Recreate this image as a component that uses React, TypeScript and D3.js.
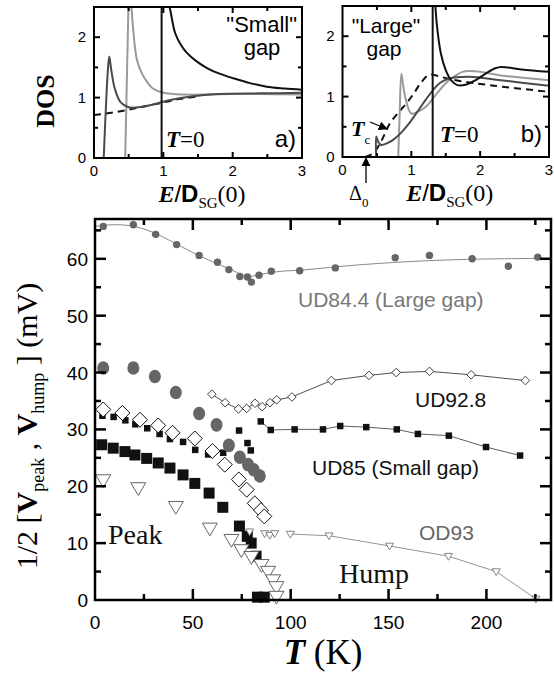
import React, { useEffect, useRef } from "react";
import * as d3 from "d3";

type Pt = [number, number];

// ---- main panel: [T (K), 1/2 V (mV)] ----
const ud844Hump: Pt[] = [
  [4.2, 65.7], [19.6, 66.0], [31, 64.3], [41.7, 62.5], [53.2, 60.6], [62.6, 59.4],
  [68.4, 58.1], [74, 56.9], [77.9, 56.8], [79.9, 55.9], [83.8, 57.1], [90.1, 57.8],
  [104.6, 57.9], [122.8, 58.4], [153.4, 60.2], [170.9, 60.6], [192.7, 60.0],
  [211.2, 58.7], [226.2, 60.3],
];
const ud844Fit: Pt[] = [
  [0, 65.7], [10, 66.0], [20, 65.7], [30, 64.6], [40, 62.9], [50, 61.1], [60, 59.5],
  [70, 58.0], [78, 56.9], [85, 57.3], [95, 57.8], [105, 58.0], [130, 58.8],
  [160, 59.5], [190, 59.9], [233, 60.1],
];
const ud844Peak: Pt[] = [
  [4.2, 40.8], [19.6, 40.8], [30.6, 39.3], [41.3, 36.5], [53.2, 32.8], [62.1, 30.8],
  [68.4, 27.2], [74, 25.1], [78.2, 23.8], [81.1, 22.9], [84.2, 21.8],
];
const ud928Hump: Pt[] = [
  [59.7, 36.2], [66.5, 34.7], [73.3, 33.6], [77.5, 33.7], [81.8, 34.6], [85.4, 34.0],
  [89.4, 34.7], [92.8, 35.2], [100.6, 35.7], [120.8, 38.6], [140, 39.5],
  [153.9, 40.0], [170.9, 40.2], [192.2, 39.6], [219.9, 38.6],
];
const ud928Peak: Pt[] = [
  [4.2, 33.5], [14, 32.9], [23, 31.7], [32.3, 30.7], [39.6, 29.4], [51, 28.4],
  [60, 26.2], [66.3, 23.8], [73.5, 21.2], [77.5, 19.4], [81.6, 17.0], [84.8, 15.8],
  [86.5, 14.7],
];
const ud85Hump: Pt[] = [
  [3.8, 32.4], [9.5, 32.2], [15.5, 31.6], [20.6, 30.9], [26.7, 30.2], [33, 29.2],
  [38.3, 28.3], [45, 27.8], [51.2, 26.4], [57.8, 25.6], [65.5, 25.9], [73.6, 29.8],
  [77.9, 27.6], [79.6, 26.3], [84.7, 31.4], [89.8, 29.9], [102, 30.0], [116.5, 30.0],
  [125.3, 30.6], [138.6, 30.4], [154.2, 30.0], [165, 29.2], [180.8, 28.9],
  [199.8, 26.9], [217.2, 25.4],
];
const ud85Peak: Pt[] = [
  [3.4, 27.3], [9.3, 26.7], [15.3, 26.1], [20.4, 25.5], [26.4, 24.9], [32.3, 24.1],
  [38.3, 23.2], [45, 22.0], [51, 20.5], [58.3, 18.8], [65.3, 16.3], [73.8, 13.0],
  [77.8, 11.2], [79.8, 10.0], [82.3, 7.7], [83, 0.5], [86.5, 0.5],
];
const od93Peak: Pt[] = [
  [4.2, 21.1], [22.1, 19.7], [41.3, 16.4], [58.7, 12.6], [69.7, 10.6], [74.8, 8.8],
  [79.9, 7.6], [85, 6.2], [88.4, 5.0], [91, 3.5], [92.7, 2.3], [92.7, 0.6],
];
const od93Hump: Pt[] = [
  [79, 12.0], [86.7, 11.7], [89.3, 11.4], [91.8, 11.7], [99.8, 11.6], [119.6, 11.3],
  [150.5, 9.5], [180.6, 7.7], [205, 5.0], [225.3, 0.2],
];

const mainXTicks = [0, 50, 100, 150, 200];
const mainYTicks = [0, 10, 20, 30, 40, 50, 60];

// ---- insets: [E/D_SG(0), DOS] ----
const smallBlackEdge: Pt[] = [[0.975, 0], [0.975, 2.7]];
const smallBlackTail: Pt[] = [
  [1.05, 2.7], [1.1, 2.45], [1.17, 2.07], [1.25, 1.88], [1.34, 1.74], [1.48, 1.6],
  [1.63, 1.49], [1.8, 1.4], [2.01, 1.32], [2.25, 1.24], [2.49, 1.18], [2.75, 1.15],
  [3, 1.13],
];
const smallDark: Pt[] = [
  [0.14, 0], [0.17, 0.8], [0.2, 1.45], [0.22, 1.68], [0.25, 1.45], [0.3, 1.15],
  [0.38, 0.93], [0.5, 0.84], [0.7, 0.85], [0.9, 0.9], [1.1, 0.96], [1.4, 1.02],
  [1.8, 1.06], [2.4, 1.07], [3, 1.08],
];
const smallLightEdge: Pt[] = [[0.45, 0], [0.5, 2.7]];
const smallLightTail: Pt[] = [
  [0.53, 2.7], [0.56, 2.2], [0.62, 1.62], [0.7, 1.38], [0.76, 1.27], [0.85, 1.15],
  [1.0, 1.08], [1.3, 1.05], [2, 1.06], [3, 1.05],
];
const smallDashed: Pt[] = [
  [0, 0.71], [0.25, 0.75], [0.5, 0.8], [0.75, 0.86], [1.0, 0.92], [1.25, 0.98], [1.5, 1.02],
];

const largeBlackEdge: Pt[] = [[1.31, 0], [1.31, 2.7]];
const largeBlackTail: Pt[] = [
  [1.34, 2.7], [1.37, 2.2], [1.43, 1.71], [1.5, 1.44], [1.58, 1.27], [1.67, 1.19],
  [1.8, 1.2], [1.93, 1.27], [2.08, 1.38], [2.22, 1.47], [2.31, 1.49], [2.6, 1.45],
  [3, 1.41],
];
const largeLight: Pt[] = [
  [0.81, 0], [0.83, 0.7], [0.855, 1.38], [0.88, 1.2], [0.92, 0.95], [1.0, 0.72],
  [1.1, 0.75], [1.21, 0.83], [1.35, 1.02], [1.5, 1.22], [1.62, 1.33], [1.74, 1.41],
  [1.93, 1.42], [2.3, 1.35], [3, 1.27],
];
const largeDark: Pt[] = [
  [0.49, 0], [0.49, 0.34], [0.52, 0.25], [0.56, 0.2], [0.65, 0.23], [0.73, 0.28],
  [0.85, 0.4], [0.97, 0.56], [1.1, 0.77], [1.21, 0.95], [1.31, 1.1], [1.41, 1.22],
  [1.55, 1.3], [1.84, 1.33], [2.3, 1.27], [3, 1.18],
];
const largeDashed: Pt[] = [
  [0.33, 0], [0.4, 0.03], [0.47, 0.09], [0.58, 0.3], [0.69, 0.56], [0.8, 0.72],
  [0.93, 0.89], [1.04, 1.06], [1.14, 1.23], [1.26, 1.36], [1.45, 1.32], [1.65, 1.27],
  [2.2, 1.18], [3, 1.08],
];

const insetXTicks = [0, 1, 2, 3];
const insetYTicks = [0, 1, 2];

const SANS = "'Liberation Sans', Arial, sans-serif";
const SERIF = "'Liberation Serif', 'Times New Roman', serif";

// frame with inward ticks on all four sides
const drawFrame = (g, x, y, xMaj, xMin, yMaj, yMin, majLen, minLen, sw) => {
  const [x0, x1] = x.range();
  const [y0, y1] = y.range(); // y0 bottom, y1 top
  const ticks = g.append("g").attr("stroke", "#000").attr("stroke-width", sw);
  const tx = (v, len) => {
    ticks.append("line").attr("x1", x(v)).attr("x2", x(v)).attr("y1", y0).attr("y2", y0 - len);
    ticks.append("line").attr("x1", x(v)).attr("x2", x(v)).attr("y1", y1).attr("y2", y1 + len);
  };
  const ty = (v, len) => {
    ticks.append("line").attr("y1", y(v)).attr("y2", y(v)).attr("x1", x0).attr("x2", x0 + len);
    ticks.append("line").attr("y1", y(v)).attr("y2", y(v)).attr("x1", x1).attr("x2", x1 - len);
  };
  xMaj.forEach((v) => tx(v, majLen));
  xMin.forEach((v) => tx(v, minLen));
  yMaj.forEach((v) => ty(v, majLen));
  yMin.forEach((v) => ty(v, minLen));
  g.append("rect")
    .attr("x", x0).attr("y", y1)
    .attr("width", x1 - x0).attr("height", y0 - y1)
    .attr("fill", "none").attr("stroke", "#000").attr("stroke-width", sw);
};

const App = () => {
  const svgRef = useRef<SVGSVGElement>(null);

  useEffect(() => {
    const svg = d3.select(svgRef.current);
    svg.selectAll("*").remove();

    const defs = svg.append("defs");

    // ================= insets =================
    const drawInset = (id, xr, yr, curves) => {
      const x = d3.scaleLinear().domain([0, 3]).range(xr);
      const y = d3.scaleLinear().domain([0, 2.5]).range(yr);
      defs.append("clipPath").attr("id", id)
        .append("rect")
        .attr("x", xr[0]).attr("y", yr[1])
        .attr("width", xr[1] - xr[0]).attr("height", yr[0] - yr[1]);
      const g = svg.append("g");
      const cg = g.append("g").attr("clip-path", `url(#${id})`);
      const line = d3.line<Pt>().x((d) => x(d[0])).y((d) => y(d[1])).curve(d3.curveCatmullRom.alpha(0.5));
      curves.forEach((c) => {
        cg.append("path")
          .datum(c.data)
          .attr("d", line)
          .attr("fill", "none")
          .attr("stroke", c.color)
          .attr("stroke-width", 2)
          .attr("stroke-dasharray", c.dash || null);
      });
      drawFrame(g, x, y, [1, 2], [0.5, 1.5, 2.5], [1, 2], [0.5, 1.5], 6, 4, 2);
      g.selectAll(".xl").data(insetXTicks).enter().append("text")
        .attr("x", (d) => x(d)).attr("y", yr[0] + 18)
        .attr("text-anchor", "middle")
        .attr("font-family", SANS).attr("font-size", 15)
        .text((d) => d);
      g.selectAll(".yl").data(insetYTicks).enter().append("text")
        .attr("x", xr[0] - 8).attr("y", (d) => y(d) + 5)
        .attr("text-anchor", "end")
        .attr("font-family", SANS).attr("font-size", 15)
        .text((d) => d);
      // x label E/D_SG(0)
      const t = g.append("text")
        .attr("x", (xr[0] + xr[1]) / 2 + 4).attr("y", yr[0] + 44)
        .attr("text-anchor", "middle")
        .attr("font-family", SERIF).attr("font-size", 24);
      t.append("tspan").attr("font-weight", "bold").attr("font-style", "italic").text("E");
      t.append("tspan").attr("font-family", SANS).text("/");
      t.append("tspan").attr("font-family", SANS).attr("font-weight", "bold").text("D");
      t.append("tspan").attr("font-size", 15).attr("dy", 6).text("SG");
      t.append("tspan").attr("dy", -6).text("(0)");
      return { x, y, g };
    };

    const a = drawInset("clipA", [94, 302], [158, 7], [
      { data: smallDashed, color: "#111", dash: "7,5" },
      { data: smallLightEdge, color: "#9a9a9a" },
      { data: smallLightTail, color: "#9a9a9a" },
      { data: smallDark, color: "#4a4a4a" },
      { data: smallBlackEdge, color: "#111" },
      { data: smallBlackTail, color: "#111" },
    ]);
    const b = drawInset("clipB", [342.5, 549], [157, 6], [
      { data: largeDashed, color: "#111", dash: "7,5" },
      { data: largeLight, color: "#9a9a9a" },
      { data: largeDark, color: "#4a4a4a" },
      { data: largeBlackEdge, color: "#111" },
      { data: largeBlackTail, color: "#111" },
    ]);

    // inset a texts
    a.g.append("text").attr("x", 297).attr("y", 32).attr("text-anchor", "end")
      .attr("font-family", SANS).attr("font-size", 22).text('"Small"');
    a.g.append("text").attr("x", 262).attr("y", 55).attr("text-anchor", "middle")
      .attr("font-family", SANS).attr("font-size", 22).text("gap");
    const ta = a.g.append("text").attr("x", 166).attr("y", 147)
      .attr("font-family", SERIF).attr("font-size", 23);
    ta.append("tspan").attr("font-weight", "bold").attr("font-style", "italic").text("T");
    ta.append("tspan").text("=0");
    a.g.append("text").attr("x", 296).attr("y", 147).attr("text-anchor", "end")
      .attr("font-family", SANS).attr("font-size", 24).text("a)");

    // inset b texts
    b.g.append("text").attr("x", 386).attr("y", 33).attr("text-anchor", "middle")
      .attr("font-family", SANS).attr("font-size", 21).text('"Large"');
    b.g.append("text").attr("x", 384).attr("y", 56).attr("text-anchor", "middle")
      .attr("font-family", SANS).attr("font-size", 21).text("gap");
    const tb = b.g.append("text").attr("x", 440).attr("y", 142)
      .attr("font-family", SERIF).attr("font-size", 23);
    tb.append("tspan").attr("font-weight", "bold").attr("font-style", "italic").text("T");
    tb.append("tspan").text("=0");
    b.g.append("text").attr("x", 542).attr("y", 142).attr("text-anchor", "end")
      .attr("font-family", SANS).attr("font-size", 24).text("b)");
    const tc = b.g.append("text").attr("x", 351).attr("y", 136)
      .attr("font-family", SERIF).attr("font-size", 22);
    tc.append("tspan").attr("font-weight", "bold").attr("font-style", "italic").text("T");
    tc.append("tspan").attr("font-size", 13).attr("dy", 8).text("c");
    defs.append("marker").attr("id", "arr")
      .attr("viewBox", "0 0 10 10").attr("refX", 9).attr("refY", 5)
      .attr("markerWidth", 7).attr("markerHeight", 7).attr("orient", "auto")
      .append("path").attr("d", "M0,0 L10,5 L0,10 Z").attr("fill", "#000");
    b.g.append("line").attr("x1", 370).attr("y1", 122).attr("x2", 387).attr("y2", 129)
      .attr("stroke", "#000").attr("stroke-width", 1.3).attr("marker-end", "url(#arr)");
    b.g.append("line").attr("x1", 366).attr("y1", 183).attr("x2", 366).attr("y2", 158)
      .attr("stroke", "#000").attr("stroke-width", 1.3).attr("marker-end", "url(#arr)");
    const dl = b.g.append("text").attr("x", 349).attr("y", 200)
      .attr("font-family", SERIF).attr("font-size", 20);
    dl.append("tspan").text("\u0394");
    dl.append("tspan").attr("font-size", 13).attr("dy", 7).text("0");

    // DOS label
    svg.append("text")
      .attr("transform", "translate(54,101) rotate(-90)")
      .attr("text-anchor", "middle")
      .attr("font-family", SERIF).attr("font-weight", "bold").attr("font-size", 26)
      .text("DOS");

    // ================= main panel =================
    const x = d3.scaleLinear().domain([0, 233]).range([95, 551]);
    const y = d3.scaleLinear().domain([0, 67]).range([600, 219]);
    const g = svg.append("g");
    const pl = d3.line<Pt>().x((d) => x(d[0])).y((d) => y(d[1]));

    // fitted / connecting lines
    g.append("path").datum(ud844Fit)
      .attr("d", pl.curve(d3.curveCatmullRom.alpha(0.5)))
      .attr("fill", "none").attr("stroke", "#888").attr("stroke-width", 1);
    pl.curve(d3.curveLinear);
    g.append("path").datum(ud928Hump)
      .attr("d", pl).attr("fill", "none").attr("stroke", "#222").attr("stroke-width", 0.8);
    g.append("path").datum(ud85Hump.filter((d) => d[0] > 84))
      .attr("d", pl).attr("fill", "none").attr("stroke", "#333").attr("stroke-width", 0.8);
    g.append("path").datum(od93Hump.filter((d) => d[0] > 99))
      .attr("d", pl).attr("fill", "none").attr("stroke", "#777").attr("stroke-width", 0.8);

    const sq = (s) => `M${-s / 2},${-s / 2}h${s}v${s}h${-s}Z`;
    const dia = (h) => `M0,${-h}L${h},0L0,${h}L${-h},0Z`;
    const tri = (w) => `M${-w / 2},${-w * 0.35}L${w / 2},${-w * 0.35}L0,${w * 0.5}Z`;

    const marks = (data, d, fill, stroke, sw) =>
      g.append("g").selectAll("path").data(data).enter().append("path")
        .attr("transform", (p) => `translate(${x(p[0])},${y(p[1])})`)
        .attr("d", d).attr("fill", fill).attr("stroke", stroke).attr("stroke-width", sw);

    marks(ud85Hump, sq(6.5), "#111", "none", 0);
    marks(ud85Peak, sq(11), "#111", "none", 0);
    g.append("g").selectAll("ellipse").data(ud844Peak).enter().append("ellipse")
      .attr("cx", (p) => x(p[0])).attr("cy", (p) => y(p[1]))
      .attr("rx", 6).attr("ry", 6.8).attr("fill", "#666");
    g.append("g").selectAll("circle").data(ud844Hump).enter().append("circle")
      .attr("cx", (p) => x(p[0])).attr("cy", (p) => y(p[1]))
      .attr("r", 3.7).attr("fill", "#666");
    marks(ud928Peak, dia(7.5), "#fff", "#111", 1);
    marks(ud928Hump, dia(4.3), "#fff", "#111", 0.8);
    marks(od93Peak, tri(15), "#fff", "#666", 1);
    marks(od93Hump, tri(8), "#fff", "#666", 0.8);

    drawFrame(g, x, y,
      [50, 100, 150, 200], [25, 75, 125, 175, 225],
      [10, 20, 30, 40, 50, 60], [5, 15, 25, 35, 45, 55, 65],
      11, 6, 2.5);

    g.selectAll(".mx").data(mainXTicks).enter().append("text")
      .attr("x", (d) => x(d)).attr("y", 629)
      .attr("text-anchor", "middle")
      .attr("font-family", SANS).attr("font-size", 19)
      .text((d) => d);
    g.selectAll(".my").data(mainYTicks).enter().append("text")
      .attr("x", 88).attr("y", (d) => y(d) + 7)
      .attr("text-anchor", "end")
      .attr("font-family", SANS).attr("font-size", 19)
      .text((d) => d);

    // series labels
    const lab = (tx, ty, s, col, fam = SANS, size = 21, anchor = "start") =>
      g.append("text").attr("x", tx).attr("y", ty).attr("text-anchor", anchor)
        .attr("font-family", fam).attr("font-size", size).attr("fill", col).text(s);
    lab(298, 307, "UD84.4 (Large gap)", "#777");
    lab(415, 407, "UD92.8", "#111");
    lab(312, 475, "UD85 (Small gap)", "#111");
    lab(419, 540, "OD93", "#666");
    lab(339, 583, "Hump", "#111", SERIF, 28);
    lab(108, 544, "Peak", "#111", SERIF, 28);

    // axis titles
    const xt = svg.append("text").attr("x", 323).attr("y", 664).attr("text-anchor", "middle")
      .attr("font-family", SERIF).attr("font-size", 35);
    xt.append("tspan").attr("font-weight", "bold").attr("font-style", "italic").text("T");
    xt.append("tspan").text(" (K)");

    const yt = svg.append("text")
      .attr("transform", "translate(37,426) rotate(-90)")
      .attr("text-anchor", "middle")
      .attr("font-family", SERIF).attr("font-size", 30);
    yt.append("tspan").text("1/2 [");
    yt.append("tspan").attr("font-weight", "bold").text("V");
    yt.append("tspan").attr("font-size", 18).attr("dy", 7).text("peak");
    yt.append("tspan").attr("dy", -7).text(" , ");
    yt.append("tspan").attr("font-weight", "bold").text("V");
    yt.append("tspan").attr("font-size", 18).attr("dy", 7).text("hump");
    yt.append("tspan").attr("dy", -7).text(" ] (mV)");
  }, []);

  return (
    <svg
      ref={svgRef}
      width={554}
      height={677}
      style={{ position: "absolute", left: 0, top: 0, background: "#fff" }}
    />
  );
};

export default App;
